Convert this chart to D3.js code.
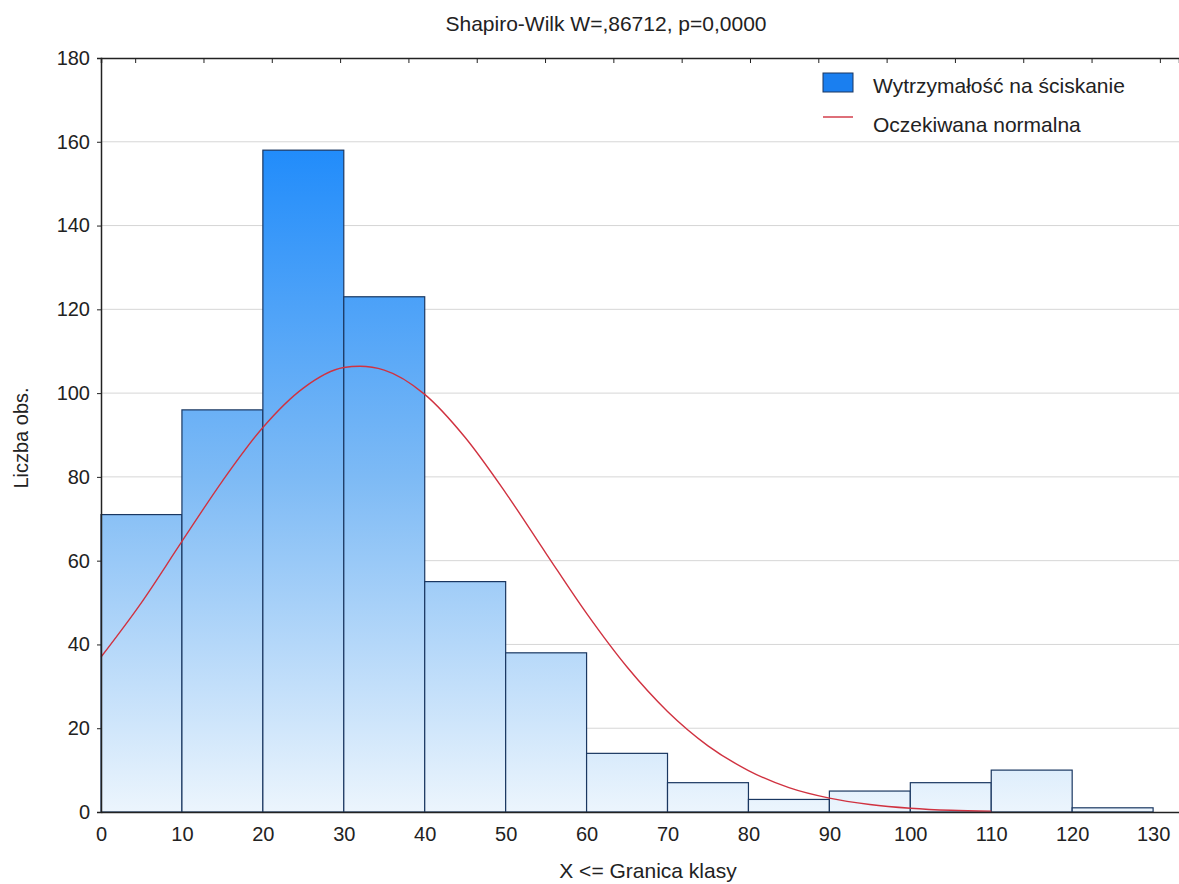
<!DOCTYPE html>
<html>
<head>
<meta charset="utf-8">
<script src="https://cdn.jsdelivr.net/npm/d3@7"></script>
<style>
  body { margin: 0; background: #fff; }
  text { font-family: "Liberation Sans", Arial, sans-serif; fill: #222; }
</style>
</head>
<body>
<script>
// histogram bins (upper class limits) and counts
const binStart = [0, 10, 20, 30, 40, 50, 60, 70, 80, 90, 100, 110, 120];
const binEnd = [10, 20, 30, 40, 50, 60, 70, 80, 90, 100, 110, 120, 130];
const counts = [71, 96, 158, 123, 55, 38, 14, 7, 3, 5, 7, 10, 1];

// expected normal curve
const curveX = [0, 5, 10, 15, 20, 25, 30, 32, 35, 40, 45, 50, 55, 60, 65, 70, 75, 80, 85, 90, 95, 100, 105, 110];
const curveY = [37, 50, 64.6, 79, 91.8, 101.2, 106.1, 106.4, 105.5, 99.7, 89.4, 76.2, 61.7, 47.4, 34.6, 24, 15.8, 9.9, 5.8, 3.3, 1.8, 0.9, 0.4, 0.2];

const xTicks = d3.range(0, 131, 10);
const yTicks = d3.range(0, 181, 20);

const title = "Shapiro-Wilk W=,86712, p=0,0000";
const xLabel = "X <= Granica klasy";
const yLabel = "Liczba obs.";
const legendLabels = ["Wytrzymałość na ściskanie", "Oczekiwana normalna"];

const W = 1179, H = 884;
const plotLeft = 101, plotRight = 1179, plotTop = 58, plotBottom = 812;

const svg = d3.select('body').append('svg')
    .attr('width', W)
    .attr('height', H);

const defs = svg.append('defs');
const grad = defs.append('linearGradient')
    .attr('id', 'barGrad')
    .attr('gradientUnits', 'userSpaceOnUse')
    .attr('x1', 0).attr('x2', 0);

var x = d3.scaleLinear()
    .domain([0, 133.2])
    .range([plotLeft, plotRight]);

var y = d3.scaleLinear()
    .domain([0, 180])
    .range([plotBottom, plotTop]);

// secondary scale for the top frame tick marks
var xTop = d3.scaleLinear()
    .domain([-0.5, 15.28])
    .range([plotLeft, plotRight]);

grad.attr('y1', y(160)).attr('y2', y(0));
grad.append('stop').attr('offset', '0%').attr('stop-color', '#1f8bfb');
grad.append('stop').attr('offset', '50%').attr('stop-color', '#7dbaf5');
grad.append('stop').attr('offset', '100%').attr('stop-color', '#ecf5fd');

// grid lines
svg.append('g')
    .selectAll('line')
    .data(yTicks.filter(d => d > 0 && d < 180))
    .enter()
    .append('line')
    .attr('x1', plotLeft).attr('x2', plotRight)
    .attr('y1', d => y(d)).attr('y2', d => y(d))
    .attr('stroke', '#d6d6d6')
    .attr('stroke-width', 1);

// bars
svg.append('g')
    .selectAll('rect')
    .data(counts)
    .enter()
    .append('rect')
    .attr('x', (d, i) => x(binStart[i]))
    .attr('y', d => y(d))
    .attr('width', (d, i) => x(binEnd[i]) - x(binStart[i]))
    .attr('height', d => y(0) - y(d))
    .attr('fill', 'url(#barGrad)')
    .attr('stroke', '#1a3761')
    .attr('stroke-width', 1.2);

// normal curve
const line = d3.line()
    .x((d, i) => x(curveX[i]))
    .y(d => y(d))
    .curve(d3.curveMonotoneX);
svg.append('path')
    .datum(curveY)
    .attr('d', line)
    .attr('fill', 'none')
    .attr('stroke', '#d03240')
    .attr('stroke-width', 1.4);

// Add Y axis
const yAxis = svg.append('g')
    .attr('transform', `translate(${plotLeft},0)`)
    .call(d3.axisLeft(y).tickValues(yTicks).tickSize(4).tickPadding(7));
yAxis.select('.domain').attr('stroke', '#222').attr('stroke-width', 1.5);
yAxis.selectAll('.tick line').attr('stroke', '#222');
yAxis.selectAll('text').style('font-size', '20px').attr('fill', '#222');

// Add X axis
const xAxis = svg.append('g')
    .attr('transform', `translate(0,${plotBottom})`)
    .call(d3.axisBottom(x).tickValues(xTicks).tickSize(0).tickPadding(15));
xAxis.select('.domain').attr('stroke', '#222').attr('stroke-width', 1.5);
xAxis.selectAll('text').style('font-size', '20px').attr('fill', '#222');

// top frame with inward ticks
const topAxis = svg.append('g')
    .attr('transform', `translate(0,${plotTop})`)
    .call(d3.axisBottom(xTop).tickValues(d3.range(0, 16)).tickSize(5).tickFormat(''));
topAxis.select('.domain').attr('stroke', '#222').attr('stroke-width', 1.5);
topAxis.selectAll('.tick line').attr('stroke', '#222');

// title and axis labels
svg.append('text')
    .attr('x', 606).attr('y', 31)
    .attr('text-anchor', 'middle')
    .style('font-size', '21px')
    .text(title);

svg.append('text')
    .attr('x', 648).attr('y', 878)
    .attr('text-anchor', 'middle')
    .style('font-size', '21px')
    .text(xLabel);

svg.append('text')
    .attr('transform', 'translate(28,438) rotate(-90)')
    .attr('text-anchor', 'middle')
    .style('font-size', '20px')
    .text(yLabel);

// legend
const legend = svg.append('g');
legend.append('rect')
    .attr('x', 823).attr('y', 73)
    .attr('width', 30).attr('height', 19)
    .attr('fill', '#1a7ff0')
    .attr('stroke', '#1a3761')
    .attr('stroke-width', 1);
legend.append('line')
    .attr('x1', 823).attr('x2', 853)
    .attr('y1', 117).attr('y2', 117)
    .attr('stroke', '#d03240')
    .attr('stroke-width', 1.4);
legend.selectAll('.lab')
    .data(legendLabels)
    .enter()
    .append('text')
    .attr('class', 'lab')
    .attr('x', 873)
    .attr('y', (d, i) => 93 + i * 39)
    .style('font-size', '21px')
    .text(d => d);
</script>
</body>
</html>
